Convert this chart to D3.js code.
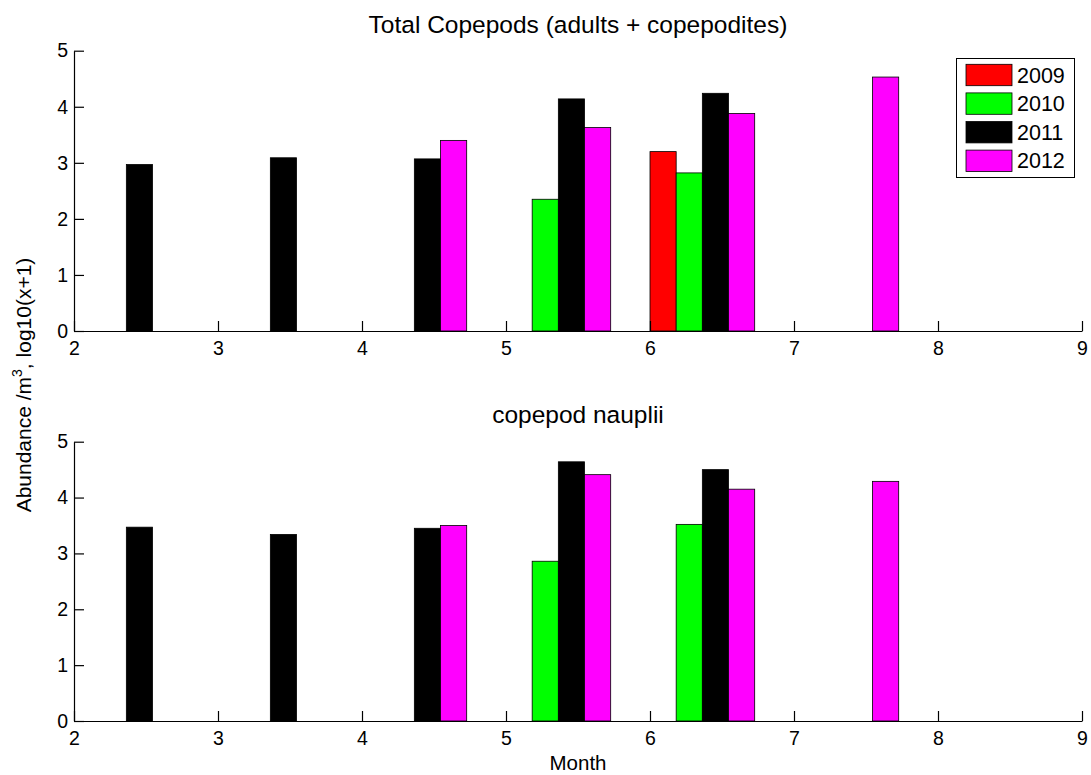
<!DOCTYPE html>
<html>
<head>
<meta charset="utf-8">
<script src="https://cdn.jsdelivr.net/npm/d3@7"></script>
<style>
  html, body { margin: 0; padding: 0; background: #fff; }
  svg { display: block; font-family: "Liberation Sans", Arial, sans-serif; }
</style>
</head>
<body>
<svg id="chart" width="1091" height="775"></svg>
<script>
// ---- data ----
const months = [2, 3, 4, 5, 6, 7];
const years = ["2009", "2010", "2011", "2012"];
const yearColors = ["#ff0000", "#00ff00", "#000000", "#ff00ff"];
const xTicks = [2, 3, 4, 5, 6, 7, 8, 9];
const yTicks = [0, 1, 2, 3, 4, 5];

// Total copepods (adults + copepodites), log10(x+1)
const adults2009 = [null, null, null, null, 3.20, null];
const adults2010 = [null, null, null, 2.35, 2.82, null];
const adults2011 = [2.97, 3.09, 3.07, 4.14, 4.24, null];
const adults2012 = [null, null, 3.40, 3.63, 3.88, 4.53];

// Copepod nauplii, log10(x+1)
const nauplii2009 = [null, null, null, null, null, null];
const nauplii2010 = [null, null, null, 2.86, 3.52, null];
const nauplii2011 = [3.47, 3.34, 3.45, 4.64, 4.50, null];
const nauplii2012 = [null, null, 3.50, 4.41, 4.15, 4.29];

const panels = [
  { title: "Total Copepods (adults + copepodites)", series: [adults2009, adults2010, adults2011, adults2012], top: 50.7, bottom: 331, titleY: 33 },
  { title: "copepod nauplii", series: [nauplii2009, nauplii2010, nauplii2011, nauplii2012], top: 441.7, bottom: 721, titleY: 423 }
];

// ---- layout ----
const svg = d3.select("#chart");
svg.append("rect").attr("width", 1091).attr("height", 775).attr("fill", "#fff");

const left = 74, right = 1082;
const x = d3.scaleLinear().domain([2, 9]).range([left, right]);
const groupWidth = 0.727;
const barW = groupWidth / years.length;

panels.forEach((p, pi) => {
  const y = d3.scaleLinear().domain([0, 5]).range([p.bottom, p.top]);
  const g = svg.append("g");

  // bars
  p.series.forEach((vals, si) => {
    const data = months.map((m, i) => ({ m, v: vals[i] })).filter(d => d.v != null);
    g.selectAll(null).data(data).enter().append("rect")
      .attr("x", d => x(d.m + si * barW))
      .attr("width", x(barW) - x(0))
      .attr("y", d => y(d.v))
      .attr("height", d => y(0) - y(d.v))
      .attr("fill", yearColors[si])
      .attr("stroke", "#000")
      .attr("stroke-width", 0.8);
  });

  // axes
  const xa = g.append("g").attr("transform", `translate(0,${p.bottom})`)
    .call(d3.axisBottom(x).tickValues(xTicks).tickFormat(d3.format("d")).tickSizeInner(-10).tickSizeOuter(0).tickPadding(10));
  const ya = g.append("g").attr("transform", `translate(${left},0)`)
    .call(d3.axisLeft(y).tickValues(yTicks).tickFormat(d3.format("d")).tickSizeInner(-10).tickSizeOuter(0).tickPadding(6));
  [xa, ya].forEach(a => {
    a.selectAll("text").attr("font-size", 19.5).attr("fill", "#000").attr("font-family", "Liberation Sans, Arial, sans-serif");
    a.selectAll("path, line").attr("stroke", "#000").attr("stroke-width", 1.2);
  });

  // title
  svg.append("text").attr("x", (left + right) / 2).attr("y", p.titleY)
    .attr("text-anchor", "middle").attr("font-size", 24.5).attr("fill", "#000").text(p.title);
});

// x label
svg.append("text").attr("x", (left + right) / 2).attr("y", 770)
  .attr("text-anchor", "middle").attr("font-size", 20.5).attr("fill", "#000").text("Month");

// y label
const yl = svg.append("text").attr("transform", "translate(31,385) rotate(-90)")
  .attr("text-anchor", "middle").attr("font-size", 21).attr("fill", "#000");
yl.append("tspan").text("Abundance /m");
yl.append("tspan").attr("font-size", 14).attr("dy", -9).text("3");
yl.append("tspan").attr("dy", 9).text(", log10(x+1)");

// legend
const lg = svg.append("g");
lg.append("rect").attr("x", 956.5).attr("y", 58.5).attr("width", 118).attr("height", 119)
  .attr("fill", "#fff").attr("stroke", "#000").attr("stroke-width", 1);
years.forEach((yr, i) => {
  const cy = 75 + i * 28.6;
  lg.append("rect").attr("x", 966).attr("y", cy - 10.7).attr("width", 46).attr("height", 21.4)
    .attr("fill", yearColors[i]).attr("stroke", "#000").attr("stroke-width", 0.8);
  lg.append("text").attr("x", 1017).attr("y", cy + 7.5).attr("font-size", 21.5).attr("fill", "#000").text(yr);
});
</script>
</body>
</html>
